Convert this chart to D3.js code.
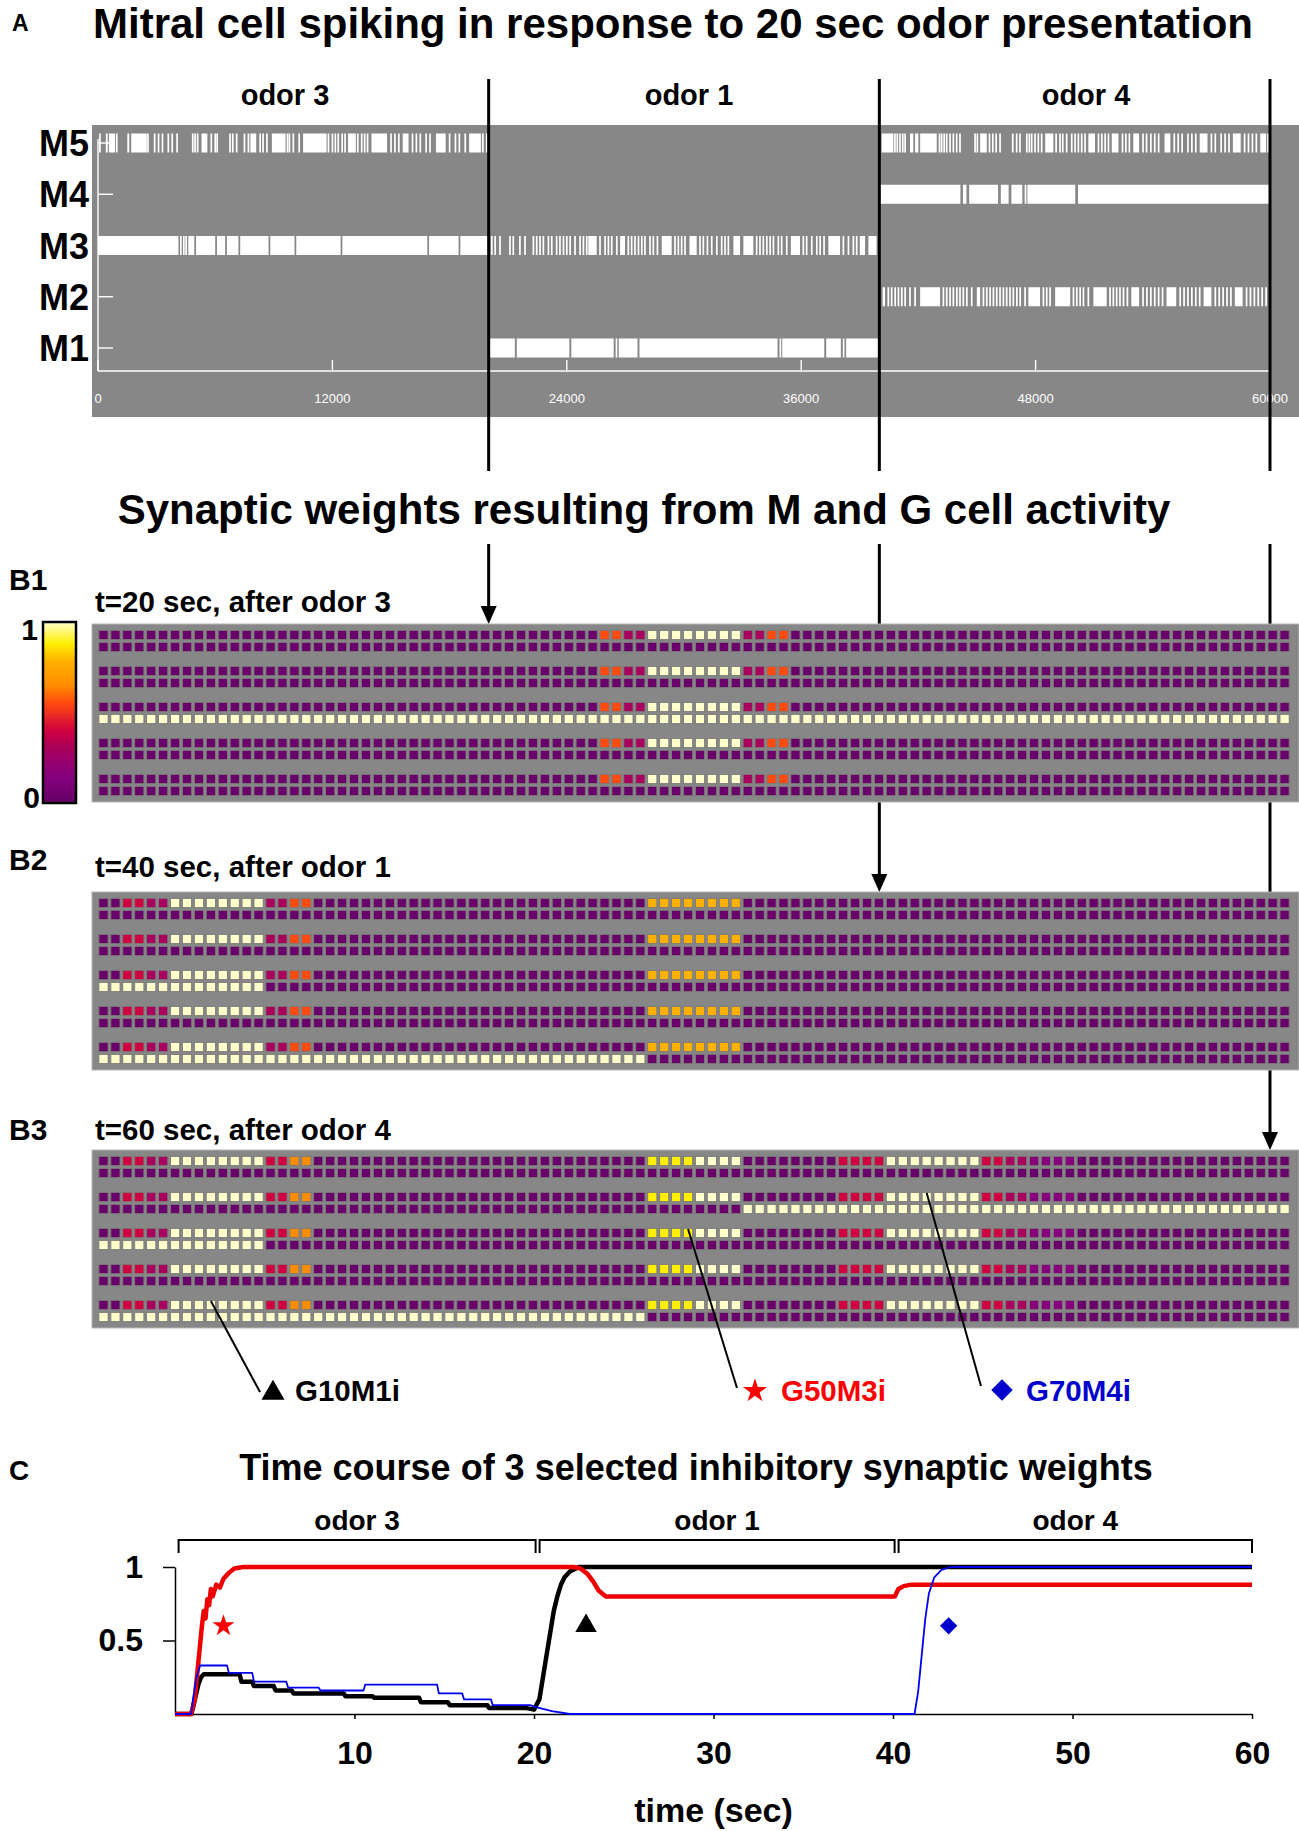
<!DOCTYPE html>
<html><head><meta charset="utf-8"><title>Mitral cell spiking and synaptic weights</title>
<script src="https://cdn.jsdelivr.net/npm/d3@7/dist/d3.min.js"></script>
<style>
html,body{margin:0;padding:0;background:#fff;}
svg{display:block;}
svg text{font-family:"Liberation Sans",Arial,Helvetica,sans-serif;font-weight:bold;}
</style></head><body>
<svg id="fig" width="1299" height="1831" viewBox="0 0 1299 1831"></svg>
<script>
// ================= DATA =================
const mitralCells = ["M5","M4","M3","M2","M1"];
const odorNames  = ["odor 3","odor 1","odor 4"];
const odorStarts = [0,20,40];     // s
const odorEnds   = [20,40,60];    // s
const rasterTickValues = [0,12000,24000,36000,48000,60000]; // ms

// spike trains (s); a number = single spike, [a,b] = merged burst of spikes
const spikesM5 = [0.1,[0.4,0.5],[0.56,0.87],0.96,[1.5,1.6],[1.7,2.5],2.56,2.9,3.1,3.3,3.6,3.8,4.05,4.85,4.97,5.1,[5.3,5.6],5.8,6.0,6.1,6.76,6.9,7.1,7.5,7.7,[7.8,8.1],8.3,8.45,8.65,[8.9,9.6],9.7,9.8,10.0,10.3,[10.5,11.7],11.8,12.0,12.15,12.3,12.5,12.65,[12.8,13.2],13.3,13.5,13.65,13.8,[14.0,14.8],15.0,15.2,15.4,[15.6,15.9],16.1,16.3,16.5,16.8,17.0,[17.3,17.8],18.0,18.3,18.5,18.8,[19.0,19.6],19.7,19.9,
  [40.12,40.72],40.8,40.92,41.06,41.2,41.32,[41.57,41.74],[41.83,42.0],[42.09,42.94],43.08,43.19,43.32,43.45,43.62,43.79,43.96,44.13,44.9,45.02,[45.16,45.5],45.64,45.81,45.98,46.18,46.83,47.03,47.2,47.55,47.68,47.8,47.97,48.14,48.31,[48.49,48.91],49.05,49.25,49.39,49.59,49.85,50.02,50.19,50.36,50.53,[50.7,51.04],51.22,51.39,51.56,51.73,[51.9,52.24],52.45,52.62,52.8,[53.0,53.3],53.5,53.68,53.9,54.1,54.3,[54.6,54.9],55.1,55.3,55.5,55.8,56.0,56.2,[56.4,56.8],57.0,57.2,57.5,57.7,57.9,[58.1,58.5],58.7,58.9,59.1,59.3,[59.5,59.8],59.9];
const spikesM4 = [[40.0,44.15],[44.28,44.46],[44.6,46.08],[46.22,46.62],[46.76,47.32],[47.44,47.48],[47.58,50.03],[50.17,59.95]];
const spikesM3 = [[0,4.12],[4.2,4.27],[4.35,4.4],[4.47,4.54],[4.62,4.93],[5.02,6.0],[6.09,6.51],[6.6,7.19],[7.28,8.73],[8.82,10.06],[10.15,12.42],[12.51,16.86],[16.95,18.46],[18.55,20.0],
  20.16,20.33,20.58,21.09,21.26,21.6,21.86,22.29,22.46,22.63,22.8,23.06,23.23,23.48,23.65,23.83,24.0,24.17,24.42,24.68,24.85,25.02,[25.1,25.53],25.7,25.96,26.13,26.3,26.56,[26.73,26.98],27.15,27.32,27.49,27.67,27.84,28.0,28.26,28.43,28.64,[28.86,29.37],29.54,29.71,29.88,30.05,[30.28,30.65],30.82,30.99,31.2,31.42,31.68,31.93,32.1,32.27,[32.53,32.87],[33.04,33.55],33.72,33.89,34.06,34.24,34.41,34.58,34.83,35.0,35.26,[35.47,35.94],36.11,36.28,36.54,36.8,36.97,37.17,[37.39,37.99],38.16,38.42,38.67,38.84,[39.0,39.27],[39.44,39.86]];
const spikesM2 = [[40.17,40.29],40.46,40.63,40.81,40.98,41.15,41.32,41.57,41.83,[42.09,43.11],43.28,43.45,43.62,43.79,43.97,44.13,44.3,44.48,44.73,[44.99,45.16],45.33,45.5,45.67,45.84,46.01,46.18,46.35,46.52,46.69,46.86,47.04,47.21,47.46,[47.63,48.23],48.4,48.57,48.74,[49.0,49.77],49.94,50.11,50.28,50.45,50.7,[50.96,51.64],51.81,51.98,52.15,52.32,52.5,52.7,[52.9,53.3],53.5,53.7,53.9,54.1,54.3,54.5,[54.7,55.2],55.4,55.6,55.8,56.0,56.2,56.4,[56.6,57.0],57.2,57.4,57.6,57.8,58.0,[58.2,58.6],58.8,59.0,59.2,59.4,59.6,59.8];
const spikesM1 = [[20.0,21.34],[21.44,24.13],[24.23,26.4],[26.5,26.56],[26.66,27.62],[27.72,34.79],[34.89,34.93],[35.03,37.18],[37.28,38.03],[38.13,38.2],[38.3,40.0]];

// synaptic weight snapshots: 100 granule cells per row, one character per cell
const weightLevels = {"0":0.02,"1":0.15,"2":0.3,"3":0.4,"4":0.55,"5":0.65,"6":0.78,"7":0.88,"9":1.0};
const Z = "0000000000", P = "9999999999";
// rows per mitral cell (M5..M1): inhibitory G->M row (top) and second row (bottom)
const B1_top = [Z+Z+Z+Z+"0044229999"+"9999224400"+Z+Z+Z+Z, Z+Z+Z+Z+"0044229999"+"9999224400"+Z+Z+Z+Z, Z+Z+Z+Z+"0044229999"+"9999224400"+Z+Z+Z+Z, Z+Z+Z+Z+"0044229999"+"9999224400"+Z+Z+Z+Z, Z+Z+Z+Z+"0044229999"+"9999224400"+Z+Z+Z+Z];
const B1_bot = [Z+Z+Z+Z+Z+Z+Z+Z+Z+Z, Z+Z+Z+Z+Z+Z+Z+Z+Z+Z, P+P+P+P+P+P+P+P+P+P, Z+Z+Z+Z+Z+Z+Z+Z+Z+Z, Z+Z+Z+Z+Z+Z+Z+Z+Z+Z];
const B2_top = ["0033229999"+"9999224400"+Z+Z+"0000006666"+"6666000000"+Z+Z+Z+Z, "0033229999"+"9999224400"+Z+Z+"0000006666"+"6666000000"+Z+Z+Z+Z, "0033229999"+"9999224400"+Z+Z+"0000006666"+"6666000000"+Z+Z+Z+Z, "0033229999"+"9999224400"+Z+Z+"0000006666"+"6666000000"+Z+Z+Z+Z, "0033229999"+"9999224400"+Z+Z+"0000006666"+"6666000000"+Z+Z+Z+Z];
const B2_bot = [Z+Z+Z+Z+Z+Z+Z+Z+Z+Z, Z+Z+Z+Z+Z+Z+Z+Z+Z+Z, P+"9999000000"+Z+Z+Z+Z+Z+Z+Z+Z, Z+Z+Z+Z+Z+Z+Z+Z+Z+Z, P+P+P+P+"9999990000"+Z+Z+Z+Z+Z];
const B3_top = ["0033229999"+"9999335500"+Z+Z+"0000007777"+"9999000000"+"0033339999"+"9999332211"+"1100000000"+Z, "0033229999"+"9999335500"+Z+Z+"0000007777"+"9999000000"+"0033339999"+"9999332211"+"1100000000"+Z, "0033229999"+"9999335500"+Z+Z+"0000007777"+"9999000000"+"0033339999"+"9999332211"+"1100000000"+Z, "0033229999"+"9999335500"+Z+Z+"0000007777"+"9999000000"+"0033339999"+"9999332211"+"1100000000"+Z, "0033229999"+"9999335500"+Z+Z+"0000007777"+"9999000000"+"0033339999"+"9999332211"+"1100000000"+Z];
const B3_bot = [Z+Z+Z+Z+Z+Z+Z+Z+Z+Z, Z+Z+Z+Z+Z+"0000999999"+P+P+P+P, P+"9999000000"+Z+Z+Z+Z+Z+Z+Z+Z, Z+Z+Z+Z+Z+Z+Z+Z+Z+Z, P+P+P+P+"9999990000"+Z+Z+Z+Z+Z];
const snapshotLabels = ["B1","B2","B3"];
const snapshotTitles = ["t=20 sec, after odor 3","t=40 sec, after odor 1","t=60 sec, after odor 4"];
const snapshotTop = [B1_top,B2_top,B3_top];
const snapshotBot = [B1_bot,B2_bot,B3_bot];

// selected synapses
const selectedNames = ["G10M1i","G50M3i","G70M4i"];
const selectedCols  = [9,49,69];
const selectedCells = ["M1","M3","M4"];
const selectedColors = ["#000000","#ff0000","#0000cc"];

// time courses (s, weight)
const weightG10M1i = [[0,0],[0.9,0],[1.0,0.04],[1.15,0.12],[1.3,0.2],[1.45,0.25],[1.6,0.27],[3.6,0.27],[3.7,0.22],[4.3,0.22],[4.4,0.19],[5.5,0.19],[5.6,0.16],[6.5,0.16],[6.6,0.14],[9.4,0.14],[9.5,0.12],[11.0,0.12],[11.1,0.11],[13.6,0.11],[13.7,0.08],[15.2,0.08],[15.3,0.06],[17.4,0.06],[17.5,0.04],[19.6,0.04],[20.0,0.03],[20.3,0.1],[20.5,0.25],[20.7,0.4],[20.9,0.55],[21.1,0.7],[21.3,0.8],[21.5,0.88],[21.7,0.93],[22.0,0.97],[22.5,1.0],[60,1.0]];
const weightG50M3i = [[0,0],[0.9,0],[1.1,0.1],[1.3,0.35],[1.5,0.6],[1.6,0.7],[1.7,0.65],[1.8,0.78],[1.9,0.74],[2.0,0.85],[2.1,0.8],[2.3,0.88],[2.5,0.86],[2.7,0.92],[3.0,0.96],[3.3,0.99],[3.8,1.0],[22.2,1.0],[22.6,0.99],[23.0,0.95],[23.3,0.9],[23.6,0.84],[24.0,0.8],[40.1,0.8],[40.3,0.85],[40.6,0.87],[41.0,0.88],[60,0.88]];
const weightG70M4i = [[0,0],[0.9,0],[1.0,0.1],[1.2,0.25],[1.4,0.33],[2.9,0.33],[3.0,0.28],[4.3,0.28],[4.4,0.22],[6.2,0.22],[6.3,0.18],[8.0,0.18],[8.1,0.16],[10.5,0.16],[10.6,0.2],[14.6,0.2],[14.7,0.14],[16.0,0.14],[16.1,0.1],[17.6,0.1],[17.7,0.06],[19.8,0.06],[20.0,0.05],[21.0,0.02],[22.0,0],[41.2,0],[41.4,0.15],[41.6,0.4],[41.8,0.65],[42.0,0.82],[42.3,0.93],[42.7,0.98],[43.2,1.0],[60,1.0]];
const xTicksC = [10,20,30,40,50,60];
const yTicksC = [0.5,1];

// ================= DRAWING =================
const svg = d3.select("#fig");
function label(x,y,s,size,o={}){
  return svg.append("text").attr("x",x).attr("y",y).attr("font-size",size)
    .attr("text-anchor",o.anchor||"start").attr("fill",o.fill||"#000")
    .style("font-weight",o.weight||"bold").text(s);
}

// ---------- Panel A ----------
label(12,31,"A",23);
label(673,38,"Mitral cell spiking in response to 20 sec odor presentation",42,{anchor:"middle"});
const xA = d3.scaleLinear().domain([0,60]).range([98,1270]);
const yA = d3.scalePoint().domain(mitralCells).range([143,348]);
svg.append("rect").attr("x",92).attr("y",125).attr("width",1207).attr("height",292).attr("fill","#878787");
const odorLabelX = [285,689,1086];
odorNames.forEach((n,i)=>label(odorLabelX[i],105,n,29,{anchor:"middle"}));
mitralCells.forEach(c=>label(89,yA(c)+13,c,36,{anchor:"end"}));

const spikeRows = {M5:spikesM5,M4:spikesM4,M3:spikesM3,M2:spikesM2,M1:spikesM1};
const spikeMarks = [];
mitralCells.forEach(c=>spikeRows[c].forEach(s=>{
  const burst = Array.isArray(s);
  spikeMarks.push({cell:c,a:burst?s[0]:s,b:burst?s[1]:s,burst:burst});
}));
const ax = svg.append("g").attr("stroke","#fff").attr("stroke-width",1.4);
ax.append("line").attr("x1",xA(0)).attr("x2",xA(0)).attr("y1",yA("M5")-4).attr("y2",371);
ax.append("line").attr("x1",xA(0)).attr("x2",xA(60)).attr("y1",371).attr("y2",371);
mitralCells.forEach(c=>ax.append("line").attr("x1",xA(0)).attr("x2",xA(0)+15).attr("y1",yA(c)).attr("y2",yA(c)));
rasterTickValues.forEach(t=>ax.append("line").attr("x1",xA(t/1000)).attr("x2",xA(t/1000)).attr("y1",371).attr("y2",360));
rasterTickValues.forEach(t=>label(xA(t/1000),403,String(t),13,{anchor:"middle",fill:"#fff",weight:"normal"}));
svg.append("g").selectAll("rect").data(spikeMarks).join("rect")
  .attr("x",d=>d.burst?xA(d.a):xA(d.a)-0.85)
  .attr("width",d=>d.burst?Math.max(1.7,xA(d.b)-xA(d.a)):1.7)
  .attr("y",d=>yA(d.cell)-9.5).attr("height",19).attr("fill","#fff");

const boundaryTimes = [20,40,60];
boundaryTimes.forEach(t=>svg.append("line").attr("x1",xA(t)).attr("x2",xA(t)).attr("y1",79).attr("y2",471)
  .attr("stroke","#000").attr("stroke-width",3));

// ---------- Panel B ----------
label(644,524,"Synaptic weights resulting from M and G cell activity",42,{anchor:"middle"});
const hmTops = [624,892,1150];
const hmH = 178;
boundaryTimes.forEach((t,i)=>{
  const tip = hmTops[i];
  svg.append("line").attr("x1",xA(t)).attr("x2",xA(t)).attr("y1",544).attr("y2",tip-16)
    .attr("stroke","#000").attr("stroke-width",3);
  svg.append("path").attr("d",`M${xA(t)-8},${tip-18}L${xA(t)+8},${tip-18}L${xA(t)},${tip}Z`).attr("fill","#000");
});

const wColor = d3.scaleLinear()
  .domain([0,0.15,0.3,0.4,0.55,0.65,0.78,0.88,1])
  .range(["#660066","#86007e","#a8005c","#d00040","#ff4a10","#ff8c00","#ffb000","#ffee00","#ffffcc"]);
const xCell = d3.scaleLinear().domain([0,99]).range([103.5,103.5+99*11.93]);
const gIdx = d3.scaleBand().domain(mitralCells).range([0,180]).padding(0);

snapshotLabels.forEach((lab,k)=>{
  const top = hmTops[k];
  svg.append("rect").attr("x",92).attr("y",top).attr("width",1207).attr("height",hmH)
    .attr("fill","#878787").attr("stroke","#b5b5b5").attr("stroke-width",1);
  const cells = [];
  mitralCells.forEach((c,g)=>{
    [snapshotTop[k][g],snapshotBot[k][g]].forEach((row,r)=>{
      for(let i=0;i<row.length;i++) cells.push({c:c,r:r,i:i,v:weightLevels[row[i]]});
    });
  });
  svg.append("g").selectAll("rect").data(cells).join("rect")
    .attr("x",d=>xCell(d.i)-4.6).attr("y",d=>top+11+gIdx(d.c)+12*d.r-4.6)
    .attr("width",9.2).attr("height",9.2).attr("fill",d=>wColor(d.v))
    .attr("stroke","#7a7a7a").attr("stroke-width",0.9);
});
label(9,590,"B1",30);
label(95,612,snapshotTitles[0],29.5);
label(9,870,"B2",30);
label(95,877,snapshotTitles[1],29.5);
label(9,1140,"B3",30);
label(95,1140,snapshotTitles[2],29.5);

const defs = svg.append("defs");
const grad = defs.append("linearGradient").attr("id","cbar").attr("x1",0).attr("y1",1).attr("x2",0).attr("y2",0);
wColor.domain().forEach(v=>grad.append("stop").attr("offset",v).attr("stop-color",wColor(v)));
svg.append("rect").attr("x",43).attr("y",622).attr("width",33).attr("height",181)
  .attr("fill","url(#cbar)").attr("stroke","#000").attr("stroke-width",2.5);
label(38,640,"1",30,{anchor:"end"});
label(40,808,"0",30,{anchor:"end"});

const ptrEnd   = [[260,1392],[737,1388],[981,1386]];
const ptrMark  = [[273,1393],[755,1391],[1002,1390]];
const ptrTextX = [295,781,1026];
const syms = [d3.symbol().type(d3.symbolTriangle).size(230),
              d3.symbol().type(d3.symbolStar).size(180),
              d3.symbol().type(d3.symbolSquare).size(230)];
selectedNames.forEach((n,j)=>{
  const cx = xCell(selectedCols[j]);
  const cy = hmTops[2]+11+gIdx(selectedCells[j])-4;
  svg.append("line").attr("x1",cx).attr("y1",cy).attr("x2",ptrEnd[j][0]).attr("y2",ptrEnd[j][1])
    .attr("stroke","#000").attr("stroke-width",2);
  svg.append("path").attr("d",syms[j]())
    .attr("transform",`translate(${ptrMark[j][0]},${ptrMark[j][1]})`+(j===2?" rotate(45)":""))
    .attr("fill",selectedColors[j]);
  label(ptrTextX[j],1401,n,29.5,{fill:selectedColors[j]});
});

// ---------- Panel C ----------
label(9,1480,"C",28);
label(696,1480,"Time course of 3 selected inhibitory synaptic weights",36,{anchor:"middle"});
const xC = d3.scaleLinear().domain([0,60]).range([175,1252]);
const yC = d3.scaleLinear().domain([0,1]).range([1714,1567]);
const bracketStarts = [0.2,20.2,40.2], bracketEnds = [20.2,40.2,60];
odorNames.forEach((n,i)=>{
  const a = xC(bracketStarts[i]) + (i>0?2:0), b = xC(bracketEnds[i]) - (i<2?2:0);
  svg.append("path").attr("d",`M${a},1553V1540H${b}V1553`).attr("fill","none").attr("stroke","#000").attr("stroke-width",2);
  label((a+b)/2,1530,n,28,{anchor:"middle"});
});
const xAxisC = d3.axisBottom(xC).tickValues(xTicksC).tickSize(5).tickSizeOuter(0).tickPadding(22).tickFormat(d3.format("d"));
const yAxisC = d3.axisLeft(yC).tickValues(yTicksC).tickSize(12).tickSizeOuter(0).tickPadding(20).tickFormat(d=>d===1?"1":"0.5");
const gx = svg.append("g").attr("transform",`translate(0,${yC(0)})`).call(xAxisC);
const gy = svg.append("g").attr("transform",`translate(${xC(0)},0)`).call(yAxisC);
[gx,gy].forEach(g=>{
  g.selectAll("path,line").attr("stroke","#000").attr("stroke-width",1.5);
  g.selectAll("text").attr("font-size",32).attr("fill","#000").style("font-family",'"Liberation Sans",Arial,sans-serif').style("font-weight","bold");
});
label(xC(30),1822,"time (sec)",34,{anchor:"middle"});

const lineC = d3.line().x(d=>xC(d[0])).y(d=>yC(d[1]));
svg.append("path").datum(weightG10M1i).attr("d",lineC).attr("fill","none").attr("stroke","#000").attr("stroke-width",4.5).attr("stroke-linejoin","round");
svg.append("path").datum(weightG50M3i).attr("d",lineC).attr("fill","none").attr("stroke","#ee0000").attr("stroke-width",4.5).attr("stroke-linejoin","round");
svg.append("path").datum(weightG70M4i).attr("d",lineC).attr("fill","none").attr("stroke","#0000ee").attr("stroke-width",1.8).attr("stroke-linejoin","round");

const markTimes = [22.9,2.7,43.1], markVals = [0.6,0.6,0.6];
const cSyms = [d3.symbol().type(d3.symbolTriangle).size(200),
               d3.symbol().type(d3.symbolStar).size(150),
               d3.symbol().type(d3.symbolSquare).size(150)];
selectedNames.forEach((n,j)=>{
  svg.append("path").attr("d",cSyms[j]())
    .attr("transform",`translate(${xC(markTimes[j])},${yC(markVals[j])})`+(j===2?" rotate(45)":""))
    .attr("fill",selectedColors[j]);
});
</script>
</body></html>
